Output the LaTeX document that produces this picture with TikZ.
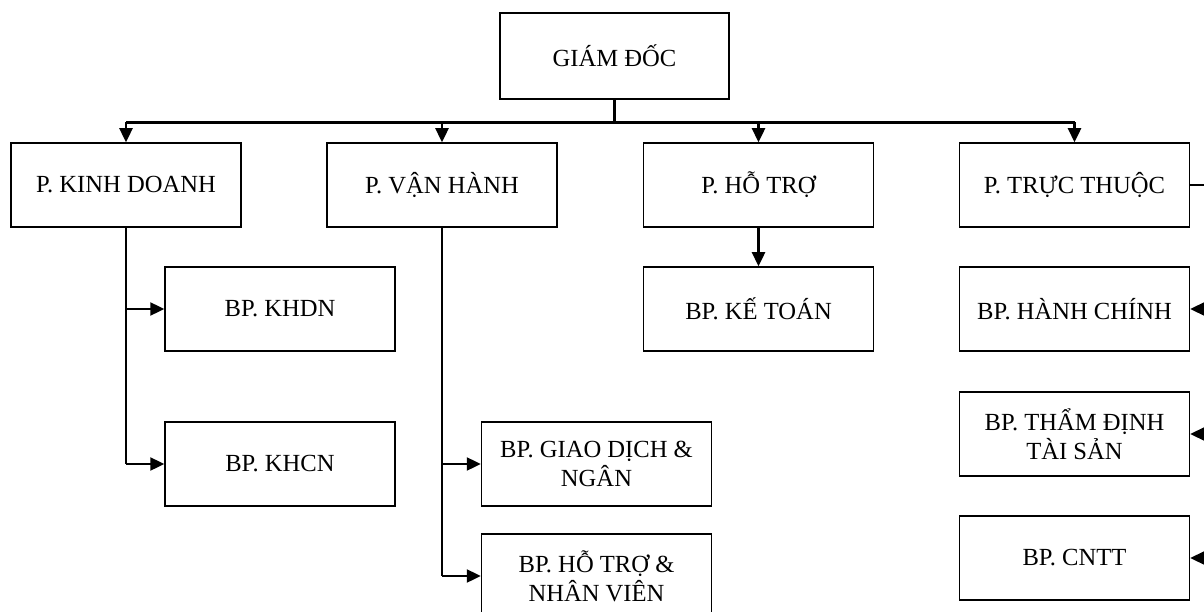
\documentclass[tikz,border=0pt]{standalone}
\usepackage{fontspec}
\setmainfont{Liberation Serif}
\usetikzlibrary{arrows.meta}
\begin{document}
\begin{tikzpicture}[x=1pt,y=-1pt,
  box/.style={draw,line width=1.5pt,minimum width=230pt,minimum height=84pt,inner sep=0pt,align=center,font=\fontsize{24.6}{29}\selectfont},
  conn/.style={line width=2.4pt},
  arr/.style={line width=2.4pt,-{Triangle[length=14pt,width=13pt]}}]
\useasboundingbox (0,0) rectangle (1204,612);
\clip (0,0) rectangle (1204,612);
\node[box,minimum width=229pt,minimum height=86pt] (gd) at (614.5,56) {GIÁM ĐỐC};
\node[box] (kd) at (126,185) {P. KINH DOANH};
\node[box] (vh) at (442,185) {P. VẬN HÀNH};
\node[box] (ht) at (758.5,185) {P. HỖ TRỢ};
\node[box] (tt) at (1074.5,185) {P. TRỰC THUỘC};
\node[box] (khdn) at (280,309) {BP. KHDN};
\node[box] (khcn) at (280,464) {BP. KHCN};
\node[box] (gdn) at (596.5,464) {BP. GIAO DỊCH \&\\NGÂN};
\node[box] (htnv) at (596.5,576) {BP. HỖ TRỢ \&\\NHÂN VIÊN};
\node[box] (kt) at (758.5,309) {BP. KẾ TOÁN};
\node[box] (hc) at (1074.5,309) {BP. HÀNH CHÍNH};
\node[box] (td) at (1074.5,434) {BP. THẨM ĐỊNH\\TÀI SẢN};
\node[box] (cntt) at (1074.5,558) {BP. CNTT};
\coordinate (bus) at (614.5,122.5);
\coordinate (rx) at (1230,0);
% top bus
\draw[conn] (gd.south) -- (bus);
\draw[conn] (kd.north |- bus) -- (tt.north |- bus);
\foreach \n in {kd,vh,ht,tt}
  \draw[arr] (\n.north |- bus) -- (\n.north);
% kinh doanh
\draw[conn] (kd.south) -- (kd.south |- khcn.west);
\draw[arr] (kd.south |- khdn.west) -- (khdn.west);
\draw[arr] (kd.south |- khcn.west) -- (khcn.west);
% van hanh
\draw[conn] (vh.south) -- (vh.south |- htnv.west);
\draw[arr] (vh.south |- gdn.west) -- (gdn.west);
\draw[arr] (vh.south |- htnv.west) -- (htnv.west);
% ho tro
\draw[arr] (ht.south) -- (kt.north);
% truc thuoc
\draw[conn] (tt.east) -- (tt.east -| rx) -- (cntt.east -| rx);
\draw[arr] (hc.east -| rx) -- (hc.east);
\draw[arr] (td.east -| rx) -- (td.east);
\draw[arr] (cntt.east -| rx) -- (cntt.east);
\end{tikzpicture}
\end{document}
